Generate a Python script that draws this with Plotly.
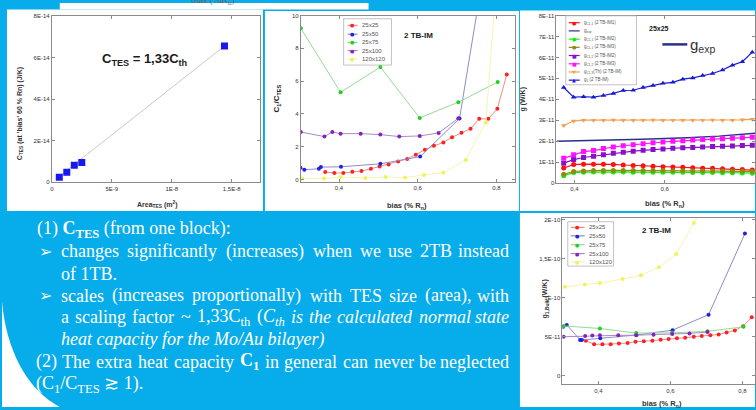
import re
import plotly.graph_objects as go

W, H = 756, 410
def px(x): return x / W
def py(y): return 1 - y / H

BLUE = "#07ACEA"
SANS = "Liberation Sans, Arial, sans-serif"
SERIF = "Liberation Serif, Times New Roman, serif"

# ---------------- data ----------------
# Panel 1 : C_TES vs area
area_tes = [0.625, 1.25, 1.875, 2.5, 14.4]        # units of 1E-9 m^2
c_tes = [0.25, 0.49, 0.82, 0.95, 6.55]            # units of 1E-14 J/K
fit_area = [0.625, 14.4]
fit_c = [0.29, 6.55]
p1_xticks = [0, 5, 10, 15]
p1_xtext = ["0", "5E-9", "1E-8", "1,5E-8"]
p1_yticks = [0, 2, 4, 6, 8]
p1_ytext = ["0", "2E-14", "4E-14", "6E-14", "8E-14"]

# Panels 2 and 4 : TES sizes
sizes = ["25x25", "25x50", "25x75", "25x100", "120x120"]
bias_25x25 = [0.365, 0.388, 0.411, 0.434, 0.457, 0.481, 0.503, 0.526, 0.550, 0.573, 0.595,
              0.618, 0.641, 0.665, 0.687, 0.711, 0.734, 0.756, 0.779, 0.802, 0.826]
c1_25x25 = [0.46, 0.40, 0.40, 0.48, 0.52, 0.66, 0.80, 0.92, 1.10, 1.26, 1.52,
            1.82, 2.06, 2.26, 2.58, 2.86, 3.10, 3.70, 3.70, 4.32, 6.40]
g_25x25 = [4.50, 4.04, 4.04, 4.04, 4.12, 4.20, 4.37, 4.42, 4.50, 4.62, 4.71,
           4.80, 4.88, 5.00, 5.09, 5.18, 5.30, 5.56, 5.81, 6.36, 7.49]
bias_25x50 = [0.302, 0.312, 0.349, 0.354, 0.405, 0.505, 0.606, 0.706, 0.807]
c1_25x50 = [0.72, 0.60, 0.66, 0.76, 0.78, 0.96, 1.40, 3.72, 18.5]
g_25x50 = [6.27, 6.52, 4.59, 4.59, 4.80, 5.22, 5.85, 7.83, 18.23]
bias_25x75 = [0.303, 0.404, 0.505, 0.605, 0.703, 0.803]
c1_25x75 = [9.22, 5.32, 6.86, 3.76, 4.72, 5.94]
g_25x75 = [6.39, 6.06, 5.47, 5.50, 5.70, 6.27]
bias_25x100 = [0.303, 0.363, 0.383, 0.404, 0.455, 0.505, 0.553, 0.605, 0.653, 0.703]
c1_25x100 = [2.90, 2.62, 2.90, 2.80, 2.80, 2.74, 2.62, 2.66, 2.84, 3.74]
g_25x100 = [5.00, 5.09, 5.15, 5.18, 5.18, 5.20, 5.25, 5.35, 5.43, 5.60]
bias_120x120 = [0.307, 0.362, 0.404, 0.467, 0.518, 0.568, 0.616, 0.665, 0.722, 0.773, 0.830]
c1_120x120 = [0.06, 0.06, 0.16, 0.10, 0.16, 0.12, 0.28, 0.42, 1.20, 3.50, 22.0]
g_120x120 = [11.4, 11.7, 11.9, 12.4, 12.9, 13.9, 15.6, 19.6, 24.0, 28.0, 35.0]

# Panel 3 : thermal conductances, 25x25 (units of 1E-11 W/K)
bias_g = [0.376, 0.398, 0.420, 0.442, 0.464, 0.486, 0.508, 0.530, 0.552, 0.574,
          0.596, 0.618, 0.640, 0.662, 0.684, 0.706, 0.728, 0.750, 0.772, 0.794]
g_c11_im1 = [0.72, 0.88, 0.90, 0.90, 0.90, 0.89, 0.86, 0.84, 0.82, 0.80,
             0.78, 0.77, 0.75, 0.73, 0.71, 0.70, 0.68, 0.66, 0.64, 0.62]
g_c11_im2 = [0.35, 0.50, 0.52, 0.53, 0.53, 0.53, 0.53, 0.52, 0.52, 0.52,
             0.52, 0.51, 0.51, 0.50, 0.50, 0.50, 0.49, 0.49, 0.48, 0.47]
g_c11_im3 = [0.42, 0.55, 0.58, 0.60, 0.60, 0.60, 0.60, 0.60, 0.60, 0.60,
             0.60, 0.59, 0.59, 0.58, 0.58, 0.57, 0.57, 0.56, 0.56, 0.55]
g_c12_im2 = [0.95, 1.12, 1.22, 1.28, 1.35, 1.42, 1.47, 1.52, 1.56, 1.60,
             1.63, 1.66, 1.68, 1.70, 1.72, 1.74, 1.76, 1.77, 1.79, 1.80]
g_c12_im3 = [1.18, 1.35, 1.50, 1.55, 1.65, 1.72, 1.78, 1.83, 1.88, 1.92,
             1.96, 1.99, 2.02, 2.05, 2.08, 2.10, 2.12, 2.14, 2.16, 2.19]
g_c13_th = [2.75, 2.96, 3.00, 3.00, 3.00, 3.01, 3.00, 3.00, 3.00, 3.01,
            3.00, 3.00, 3.00, 3.00, 3.00, 3.01, 3.00, 3.00, 3.02, 3.05]
g_1_im = [4.56, 4.10, 4.12, 4.10, 4.18, 4.28, 4.42, 4.43, 4.56, 4.66,
          4.76, 4.81, 4.96, 5.02, 5.13, 5.23, 5.40, 5.63, 5.79, 6.25]
bias_gexp = [0.36, 0.45, 0.55, 0.65, 0.72, 0.80]
g_exp = [1.99, 2.03, 2.09, 2.16, 2.24, 2.38]
p3_names = ["g<sub>C1,1</sub> (2 TB-IM1)", "g<sub>exp</sub>", "g<sub>C1,1</sub> (2 TB-IM2)",
            "g<sub>C1,1</sub> (2 TB-IM3)", "g<sub>C1,2</sub> (2 TB-IM2)", "g<sub>C1,2</sub> (2 TB-IM3)",
            "g<sub>C1,3</sub>(Th) (2 TB-IM)", "g<sub>1</sub> (2 TB-IM)"]

bias_ticks = [0.4, 0.6, 0.8]
bias_text = ["0,4", "0,6", "0,8"]
p2_yticks = [0, 2, 4, 6, 8, 10]
p3_yticks = [0, 1, 2, 3, 4, 5, 6, 7, 8]
p3_ytext = ["0", "1E-11", "2E-11", "3E-11", "4E-11", "5E-11", "6E-11", "7E-11", "8E-11"]
p4_yticks = [0, 5, 10, 15, 20]
p4_ytext = ["0", "5E-11", "1E-10", "1,5E-10", "2E-10"]

# ---------------- styles ----------------
size_mcolors = ["#FF2020", "#2020E0", "#20D020", "#8A1FC0", "#F2F25A"]
size_lcolors = ["#F08A8A", "#8C8CC8", "#92DC92", "#A48CC4", "#F4F4B0"]
p3_y = [g_c11_im1, None, g_c11_im2, g_c11_im3, g_c12_im2, g_c12_im3, g_c13_th, g_1_im]
p3_mcolors = ["#FF1010", "#2B2F8A", "#10F010", "#8C8C10", "#8A10C8", "#FF10FF", "#F4A050", "#1A1AD0"]
p3_symbols = ["circle", None, "circle", "circle", "square", "square", "triangle-down", "triangle-up"]
p3_glyph = ["●", None, "●", "●", "■", "■", "▼", "▲"]

fig = go.Figure()

# Panel 1
fig.add_trace(go.Scatter(x=fit_area, y=fit_c, mode="lines", xaxis="x", yaxis="y",
                         line=dict(color="#C8C8C8", width=1), showlegend=False))
fig.add_trace(go.Scatter(x=area_tes, y=c_tes, mode="markers", xaxis="x", yaxis="y",
                         marker=dict(symbol="square", size=7, color="#1818F0"), showlegend=False))

# Panels 2 and 4
bias_list = [bias_25x25, bias_25x50, bias_25x75, bias_25x100, bias_120x120]
c1_list = [c1_25x25, c1_25x50, c1_25x75, c1_25x100, c1_120x120]
g_list = [g_25x25, g_25x50, g_25x75, g_25x100, g_120x120]
for i, name in enumerate(sizes):
    fig.add_trace(go.Scatter(x=bias_list[i], y=c1_list[i], mode="lines+markers", name=name,
                             xaxis="x2", yaxis="y2", showlegend=False,
                             line=dict(color=size_lcolors[i], width=1),
                             marker=dict(color=size_mcolors[i], size=4)))
    fig.add_trace(go.Scatter(x=bias_list[i], y=g_list[i], mode="lines+markers", name=name,
                             xaxis="x4", yaxis="y4", showlegend=False,
                             line=dict(color=size_lcolors[i], width=1),
                             marker=dict(color=size_mcolors[i], size=4)))

# Panel 3
fig.add_trace(go.Scatter(x=bias_gexp, y=g_exp, mode="lines", xaxis="x3", yaxis="y3",
                         line=dict(color="#2B2F8A", width=1.5), showlegend=False))
for i, ys in enumerate(p3_y):
    if ys is None:
        continue
    fig.add_trace(go.Scatter(x=bias_g, y=ys, mode="lines+markers", xaxis="x3", yaxis="y3",
                             showlegend=False,
                             line=dict(color=p3_mcolors[i], width=1.2),
                             marker=dict(color=p3_mcolors[i], size=5, symbol=p3_symbols[i])))

# ---------------- axes ----------------
def ax(domain, rng, tickvals, ticktext, anchor):
    return dict(domain=domain, range=rng, tickvals=tickvals, ticktext=ticktext, anchor=anchor,
                showline=True, linecolor="#8A8A8A", linewidth=1, mirror="ticks",
                ticks="inside", ticklen=3, tickcolor="#8A8A8A", showgrid=False, zeroline=False,
                tickfont=dict(size=6, color="#333", family=SANS))

layout = dict(
    xaxis=ax([px(50), px(259.5)], [0, 17.4], p1_xticks, p1_xtext, "y"),
    yaxis=ax([py(182), py(13)], [0, 8], p1_yticks, p1_ytext, "x"),
    xaxis2=ax([px(300), px(514.7)], [0.303, 0.846], bias_ticks, bias_text, "y2"),
    yaxis2=ax([py(181.7), py(12.7)], [-0.15, 10], p2_yticks, [str(v) for v in p2_yticks], "x2"),
    xaxis3=ax([px(556.7), 1.0], [0.36, 0.80], bias_ticks, bias_text, "y3"),
    yaxis3=ax([py(182.7), py(12.7)], [0, 8], p3_yticks, p3_ytext, "x3"),
    xaxis4=ax([px(562.7), 1.0], [0.30, 0.835], bias_ticks, bias_text, "y4"),
    yaxis4=ax([py(387), py(218)], [-1.1, 20.25], p4_yticks, p4_ytext, "x4"),
)

shapes = []
annotations = []

def rect(x0, y0, x1, y1, fill, line=None, layer="below", lw=0.7):
    shapes.append(dict(type="rect", xref="paper", yref="paper", x0=px(x0), x1=px(x1),
                       y0=py(y1), y1=py(y0), fillcolor=fill, layer=layer,
                       line=dict(width=lw if line else 0, color=line or fill)))

def text(x, y, s, size, color="#222", family=SANS, xanchor="center", yanchor="middle", angle=0):
    annotations.append(dict(x=px(x), y=py(y), xref="paper", yref="paper", text=s, showarrow=False,
                            xanchor=xanchor, yanchor=yanchor, textangle=angle,
                            font=dict(size=size, color=color, family=family)))

# white slide panels on blue background
rect(58, 0, 368, 6.5, "white")
rect(5, 6.5, 262, 211, "white")
rect(264, 8, 519, 211, "white")
rect(520, 7.5, 756, 211, "white")
rect(520, 213, 756, 410, "white")
shapes.append(dict(type="path", xref="paper", yref="paper", layer="below",
                   path=f"M 0,{py(303)} C {px(4)},{py(350)} {px(24)},{py(392)} {px(58)},{py(410)} L 0,{py(410)} Z",
                   fillcolor="white", line=dict(width=0)))

# cropped caption at the very top
text(212, 6, "bias (%R<sub>n</sub>)", 10, "#666", SERIF, yanchor="bottom")

# Panel 1 texts
text(143, 57, "<b>C<sub>TES</sub> = 1,33C<sub>th</sub></b>", 13, "#1a1a1a")
text(18, 112, "<b>C<sub>TES</sub> (at 'bias' 60 % Rn) (J/K)</b>", 7, "#333", angle=-90)
text(156, 204, "<b>Area<sub>TES</sub> (m<sup>2</sup>)</b>", 7, "#333")

# Panel 2 texts
text(418, 33, "<b>2 TB-IM</b>", 8, "#1a1a1a")
text(276, 97, "<b>C<sub>1</sub>/C<sub>TES</sub></b>", 8, "#222", angle=-90)
text(407, 206, "<b>bias (% R<sub>n</sub>)</b>", 7.5, "#333")

# Panel 3 texts
text(660, 26, "<b>25x25</b>", 7, "#222")
shapes.append(dict(type="line", xref="paper", yref="paper", x0=px(663), x1=px(688), y0=py(42), y1=py(42),
                   line=dict(color="#2B2F8A", width=2.5)))
text(689, 43, "g<sub>exp</sub>", 15, "#333", xanchor="left")
text(523, 97, "<b>g (W/K)</b>", 7, "#333", angle=-90)
text(666, 204, "<b>bias (% R<sub>n</sub>)</b>", 7.5, "#333")

# Panel 4 texts
text(657, 231, "<b>2 TB-IM</b>", 8, "#1a1a1a")
text(545, 300, "<b>g<sub>1,Bulk</sub> (W/K)</b>", 7, "#333", angle=-90)
text(663, 407, "<b>bias (% R<sub>n</sub>)</b>", 7.5, "#333")

# manual legends
def legend(box, ys, names, lcolors, mcolors, glyphs, xl0, xl1, xt, fsize, gsize):
    rect(*box, "white", "#9A9A9A", layer="above", lw=0.6)
    for y, n, lc, mc, gl in zip(ys, names, lcolors, mcolors, glyphs):
        shapes.append(dict(type="line", xref="paper", yref="paper", x0=px(xl0), x1=px(xl1),
                           y0=py(y), y1=py(y), line=dict(color=lc, width=1.2)))
        if gl:
            text((xl0 + xl1) / 2, y, gl, gsize, mc, "DejaVu Sans")
        text(xt, y, n, fsize, "#555", xanchor="left")

legend((343, 16, 391, 63), [22.7, 31.7, 40, 48.3, 56.7], sizes, size_lcolors, size_mcolors,
       ["●"] * 5, 347, 357, 359, 6, 5)
legend((568, 222, 614, 267), [227.7, 236.3, 245.3, 254.3, 262.7], sizes, size_lcolors, size_mcolors,
       ["●"] * 5, 571, 585, 587, 6, 5)
legend((566, 13, 637, 83), [20, 28.3, 36.7, 45, 53.3, 61.7, 70, 78.3], p3_names, p3_mcolors, p3_mcolors,
       p3_glyph, 569, 580, 582, 4.5, 5)

# ---------------- text block ----------------
WH = "white"
FS = 18
# Times metrics (1/1000 em) for justification of the text lines
REG = {' ': 250, '(': 333, ')': 333, ',': 250, '.': 250, '~': 541, '/': 278, ':': 278,
       'A': 722, 'B': 667, 'C': 667, 'E': 611, 'S': 556, 'T': 611, 'M': 889,
       'a': 444, 'b': 500, 'c': 444, 'd': 500, 'e': 444, 'f': 333, 'g': 500, 'h': 500, 'i': 278,
       'j': 278, 'k': 500, 'l': 278, 'm': 778, 'n': 500, 'o': 500, 'p': 500, 'q': 500, 'r': 333,
       's': 389, 't': 278, 'u': 500, 'v': 500, 'w': 722, 'x': 500, 'y': 500, 'z': 444}
ITAL = {' ': 250, 'C': 667, 'a': 500, 'b': 500, 'c': 444, 'd': 500, 'e': 444, 'f': 278, 'h': 500,
        'i': 278, 'l': 278, 'm': 722, 'n': 500, 'o': 500, 'r': 389, 's': 389, 't': 278, 'u': 500, 'y': 444}
BOLD = {'C': 722, '1': 500}

def tw(html, size):
    total, bold, ital, sub = 0.0, False, False, False
    for tok in re.split(r"(<[^>]+>)", html):
        if tok.startswith("<"):
            closing = tok.startswith("</")
            tag = tok.strip("</>").lower()
            if tag == "b": bold = not closing
            elif tag == "i": ital = not closing
            elif tag == "sub": sub = not closing
            continue
        s = size * (0.7 if sub else 1.0)
        for ch in tok:
            tab = ITAL if ital else (BOLD if bold else REG)
            total += tab.get(ch, REG.get(ch, 500)) * s / 1000
    return total * 1.02 + 1.0

def justified(words, x0, x1, y):
    widths = [tw(w, FS) for w in words]
    gap = (x1 - x0 - sum(widths)) / (len(words) - 1)
    x = x0
    for k, w in enumerate(words):
        if k == len(words) - 1:
            text(x1, y, w, FS, WH, SERIF, xanchor="right")
        else:
            text(x, y, w, FS, WH, SERIF, xanchor="left")
        x += widths[k] + gap

text(33, 230, "(1) <b>C<sub>TES</sub></b> (from one block):", FS, WH, SERIF, xanchor="left")
text(35, 252, "➢", 16, WH, "DejaVu Sans", xanchor="left")
justified(["changes", "significantly", "(increases)", "when", "we", "use", "2TB", "instead"], 57, 511, 252)
text(57, 275, "of 1TB.", FS, WH, SERIF, xanchor="left")
text(35, 297, "➢", 16, WH, "DejaVu Sans", xanchor="left")
justified(["scales", "(increases", "proportionally)", "with", "TES", "size", "(area),", "with"], 57, 511, 297)
justified(["a", "scaling", "factor", "~", "1,33C<sub>th</sub>", "(<i>C<sub>th</sub></i>", "<i>is</i>",
           "<i>the</i>", "<i>calculated</i>", "<i>normal</i>", "<i>state</i>"], 57, 511, 319)
text(57, 342, "<i>heat capacity for the Mo/Au bilayer)</i>", FS, WH, SERIF, xanchor="left")
justified(["(2)", "The", "extra", "heat", "capacity", "<b>C<sub>1</sub></b>", "in", "general", "can",
           "never", "be", "neglected"], 32, 511, 364)
text(32, 387, "(C<sub>1</sub>/C<sub>TES</sub> ≳ 1).", FS, WH, SERIF, xanchor="left")

fig.update_layout(**layout)
fig.update_layout(width=W, height=H, margin=dict(l=0, r=0, t=0, b=0), autosize=False,
                  paper_bgcolor=BLUE, plot_bgcolor="white", showlegend=False,
                  shapes=shapes, annotations=annotations)
fig.write_html("out.html")
